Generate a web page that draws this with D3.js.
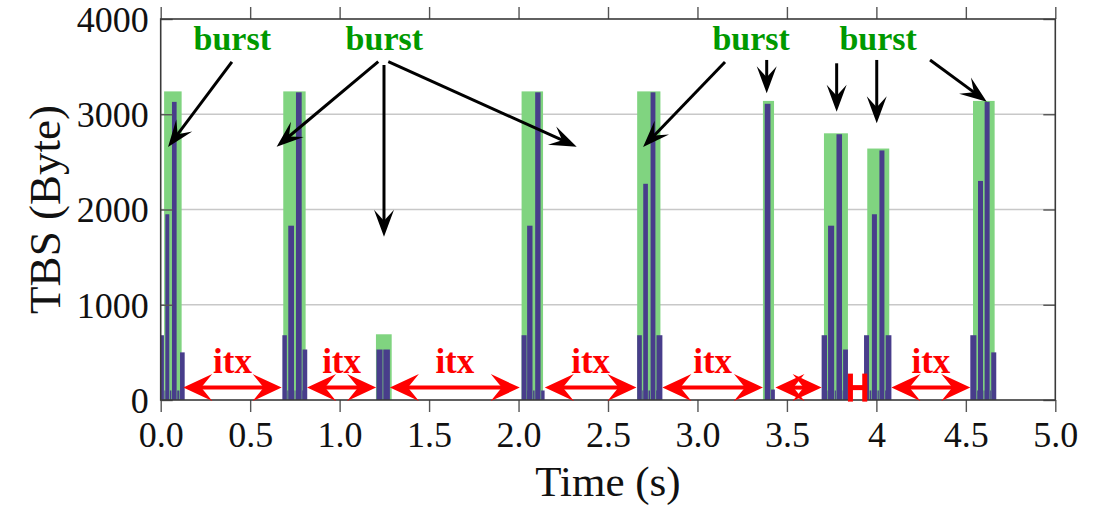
<!DOCTYPE html>
<html>
<head>
<meta charset="utf-8">
<script src="https://cdn.jsdelivr.net/npm/d3@7"></script>
<style>
  html, body { margin: 0; padding: 0; background: #fff; }
  svg { display: block; }
  text { font-family: "Liberation Serif", "Times New Roman", serif; }
</style>
</head>
<body>
<svg id="chart" width="1097" height="506"></svg>
<script>
// ---- data -------------------------------------------------------------
// x ticks (seconds) and their printed labels
const xTickValues = [0, 0.5, 1, 1.5, 2, 2.5, 3, 3.5, 4, 4.5, 5];
const xTickLabels = ["0.0", "0.5", "1.0", "1.5", "2.0", "2.5", "3.0", "3.5", "4", "4.5", "5.0"];
const yTickValues = [0, 1000, 2000, 3000, 4000];
const yTickLabels = ["0", "1000", "2000", "3000", "4000"];

// burst envelopes (green): start, end (s) and peak TBS (Byte)
const burstStart = [0.019, 0.685, 1.203, 2.017, 2.663, 3.366, 3.707, 3.949, 4.540];
const burstEnd   = [0.117, 0.810, 1.291, 2.137, 2.793, 3.428, 3.841, 4.072, 4.661];
const burstPeak  = [3240, 3240, 690, 3240, 3240, 3140, 2800, 2640, 3140];

// individual transmissions (purple): start, end (s) and TBS (Byte)
const txStart = [
  0.000, 0.018, 0.026, 0.048, 0.063, 0.089, 0.108,
  0.680, 0.705, 0.713, 0.745, 0.756, 0.788, 0.793,
  1.206, 1.244,
  2.017, 2.045, 2.048, 2.078, 2.093, 2.123,
  2.663, 2.689, 2.697, 2.723, 2.738, 2.765, 2.771,
  3.376, 3.408,
  3.694, 3.724, 3.730, 3.764, 3.777, 3.808, 3.814,
  3.931, 3.959, 3.975, 4.003, 4.017, 4.045, 4.052,
  4.525, 4.559, 4.568, 4.596, 4.605, 4.633, 4.642
];
const txEnd = [
  0.018, 0.026, 0.048, 0.063, 0.089, 0.108, 0.134,
  0.705, 0.713, 0.745, 0.756, 0.788, 0.793, 0.819,
  1.240, 1.281,
  2.045, 2.048, 2.078, 2.093, 2.123, 2.149,
  2.689, 2.697, 2.723, 2.738, 2.765, 2.771, 2.804,
  3.408, 3.436,
  3.724, 3.730, 3.764, 3.777, 3.808, 3.814, 3.841,
  3.959, 3.975, 4.003, 4.017, 4.045, 4.052, 4.084,
  4.559, 4.568, 4.596, 4.605, 4.633, 4.642, 4.670
];
const txTBS = [
  680, 100, 1950, 100, 3130, 100, 500,
  680, 100, 1830, 100, 3230, 100, 530,
  530, 530,
  680, 100, 1830, 100, 3230, 100,
  680, 100, 2270, 100, 3230, 100, 680,
  3110, 110,
  680, 100, 1830, 100, 2790, 100, 530,
  680, 100, 1950, 100, 2620, 100, 680,
  680, 100, 2300, 100, 3130, 100, 500
];

// inter-transmission gaps (red double arrows)
const itxFrom  = [0.126, 0.818, 1.281, 2.147, 2.804, 3.436, 3.841, 4.084];
const itxTo    = [0.676, 1.204, 2.007, 2.659, 3.366, 3.694, 3.949, 4.525];
const itxShowLabel = [true, true, true, true, true, false, false, true];
const itxLevel = 130;       // TBS level of the arrows
const itxLabelLevel = 283;  // TBS level of the label baseline

// "burst" annotations
const burstLabelT = [0.40, 1.25, 3.30, 4.01];
const burstLabelLevel = 3675;
// annotation arrows: from (t, TBS) to (t, TBS)
const annFromT = [0.398, 1.216, 1.248, 1.272, 3.154, 3.387, 3.778, 4.002, 4.300];
const annFromV = [3549, 3552, 3517, 3552, 3549, 3570, 3535, 3570, 3570];
const annToT   = [0.041, 0.648, 1.248, 2.325, 2.696, 3.387, 3.778, 4.002, 4.617];
const annToV   = [2656, 2659, 1714, 2659, 2656, 3220, 3027, 2905, 3132];

// ---- layout -----------------------------------------------------------
const svg = d3.select("#chart");
const x = d3.scaleLinear().domain([0, 5]).range([160.7, 1055.3]);
const y = d3.scaleLinear().domain([0, 4000]).range([400, 19]);

const GREEN = "#80d480";
const PURPLE = "#483d8b";
const RED = "#ff0000";
const FRAME = "#3a3a3a";

// grid
svg.append("g")
  .selectAll("line")
  .data([1000, 2000, 3000])
  .join("line")
  .attr("x1", x(0)).attr("x2", x(5))
  .attr("y1", d => y(d)).attr("y2", d => y(d))
  .attr("stroke", "#c8c8c8").attr("stroke-width", 1.6);

// burst envelopes
svg.append("g")
  .selectAll("rect")
  .data(burstStart.map((s, i) => ({ s, e: burstEnd[i], v: burstPeak[i] })))
  .join("rect")
  .attr("x", d => x(d.s))
  .attr("width", d => x(d.e) - x(d.s))
  .attr("y", d => y(d.v))
  .attr("height", d => y(0) - y(d.v))
  .attr("fill", GREEN);

// transmissions
svg.append("g")
  .selectAll("rect")
  .data(txStart.map((s, i) => ({ s, e: txEnd[i], v: txTBS[i] })))
  .join("rect")
  .attr("x", d => x(d.s) + (d.v < 200 ? 0.6 : 0))
  .attr("width", d => Math.max(0.8, x(d.e) - x(d.s) - (d.v < 200 ? 1.2 : 0)))
  .attr("y", d => y(d.v))
  .attr("height", d => y(0) - y(d.v))
  .attr("fill", PURPLE);

// axes
const xAxisB = d3.axisBottom(x).tickValues(xTickValues)
  .tickFormat((d, i) => xTickLabels[i]).tickSizeInner(12).tickSizeOuter(0);
const gxb = svg.append("g").attr("transform", `translate(0,${y(0)})`).call(xAxisB);
gxb.select(".domain").remove();
gxb.selectAll("line").attr("stroke", "#555").attr("stroke-width", 1.4);
gxb.selectAll("text").attr("font-size", 36).attr("fill", "#111")
  .attr("font-family", "Liberation Serif").attr("dy", null).attr("y", 47);

const xAxisT = d3.axisTop(x).tickValues(xTickValues).tickFormat("").tickSizeInner(12).tickSizeOuter(0);
const gxt = svg.append("g").attr("transform", `translate(0,${y(4000)})`).call(xAxisT);
gxt.select(".domain").remove();
gxt.selectAll("line").attr("stroke", "#555").attr("stroke-width", 1.4);

const yAxisL = d3.axisLeft(y).tickValues(yTickValues)
  .tickFormat((d, i) => yTickLabels[i]).tickSizeInner(-12).tickSizeOuter(0);
const gyl = svg.append("g").attr("transform", `translate(${x(0)},0)`).call(yAxisL);
gyl.select(".domain").remove();
gyl.selectAll("line").attr("stroke", "#555").attr("stroke-width", 1.4);
gyl.selectAll("text").attr("font-size", 36).attr("fill", "#111")
  .attr("font-family", "Liberation Serif").attr("x", -12).attr("dy", "0.34em");

const yAxisR = d3.axisRight(y).tickValues(yTickValues).tickFormat("").tickSizeInner(-12).tickSizeOuter(0);
const gyr = svg.append("g").attr("transform", `translate(${x(5)},0)`).call(yAxisR);
gyr.select(".domain").remove();
gyr.selectAll("line").attr("stroke", "#555").attr("stroke-width", 1.4);

// frame
svg.append("rect")
  .attr("x", x(0)).attr("y", y(4000))
  .attr("width", x(5) - x(0)).attr("height", y(0) - y(4000))
  .attr("fill", "none").attr("stroke", FRAME).attr("stroke-width", 1.6);

// axis titles
svg.append("text")
  .attr("x", (x(0) + x(5)) / 2).attr("y", 496)
  .attr("text-anchor", "middle").attr("font-size", 43).attr("fill", "#111")
  .text("Time (s)");
svg.append("text")
  .attr("transform", `translate(60,${(y(0) + y(4000)) / 2}) rotate(-90)`)
  .attr("text-anchor", "middle").attr("font-size", 45).attr("fill", "#111")
  .text("TBS (Byte)");

// ---- arrows -----------------------------------------------------------
// concave filled arrowhead with its tip at (tx,ty), pointing along angle a
function headPath(tx, ty, a, L, h, notch) {
  const c = Math.cos(a), s = Math.sin(a);
  const pt = (u, v) => [tx + u * c - v * s, ty + u * s + v * c];
  const p = [pt(0, 0), pt(-L, h), pt(-notch, 0), pt(-L, -h)];
  return "M" + p.map(q => q.join(",")).join("L") + "Z";
}

// red inter-transmission arrows
const gItx = svg.append("g");
itxFrom.forEach((f, i) => {
  const x0 = x(f), x1 = x(itxTo[i]), yy = y(itxLevel);
  const len = x1 - x0;
  if (len < 30) {
    // too short for heads: bar ends
    gItx.append("rect").attr("x", x0).attr("y", yy - 2.5).attr("width", len).attr("height", 5).attr("fill", RED);
    gItx.append("rect").attr("x", x0).attr("y", yy - 14).attr("width", 5).attr("height", 28).attr("fill", RED);
    gItx.append("rect").attr("x", x1 - 5).attr("y", yy - 14).attr("width", 5).attr("height", 28).attr("fill", RED);
  } else {
    gItx.append("line").attr("x1", x0 + 14).attr("x2", x1 - 14).attr("y1", yy).attr("y2", yy)
      .attr("stroke", RED).attr("stroke-width", 4);
    gItx.append("path").attr("d", headPath(x0, yy, Math.PI, 29, 13.5, 18)).attr("fill", RED);
    gItx.append("path").attr("d", headPath(x1, yy, 0, 29, 13.5, 18)).attr("fill", RED);
  }
  if (itxShowLabel[i]) {
    gItx.append("text")
      .attr("x", (x0 + x1) / 2).attr("y", y(itxLabelLevel))
      .attr("text-anchor", "middle").attr("font-size", 35).attr("font-weight", "bold")
      .attr("fill", RED).text("itx");
  }
});

// black annotation arrows
const gAnn = svg.append("g");
annFromT.forEach((f, i) => {
  const x0 = x(f), y0 = y(annFromV[i]), x1 = x(annToT[i]), y1 = y(annToV[i]);
  const a = Math.atan2(y1 - y0, x1 - x0);
  gAnn.append("line")
    .attr("x1", x0).attr("y1", y0)
    .attr("x2", x1 - 14 * Math.cos(a)).attr("y2", y1 - 14 * Math.sin(a))
    .attr("stroke", "#000").attr("stroke-width", 3);
  gAnn.append("path").attr("d", headPath(x1, y1, a, 27, 10, 16)).attr("fill", "#000");
});

// burst labels
svg.append("g")
  .selectAll("text")
  .data(burstLabelT)
  .join("text")
  .attr("x", d => x(d)).attr("y", y(burstLabelLevel))
  .attr("text-anchor", "middle").attr("font-size", 34).attr("font-weight", "bold")
  .attr("fill", "#009900")
  .text("burst");
</script>
</body>
</html>
